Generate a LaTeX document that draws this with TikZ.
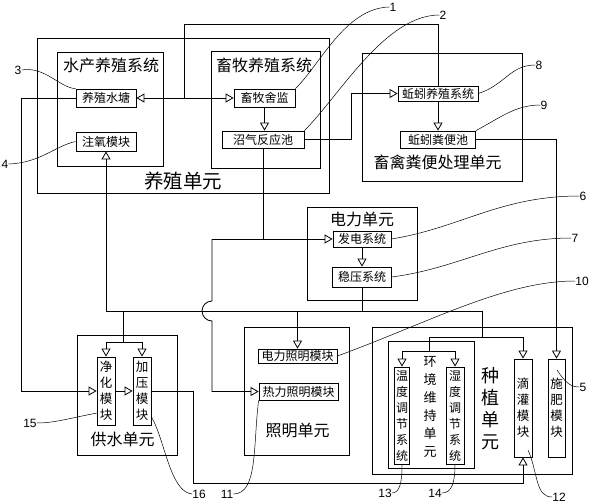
\documentclass[tikz,border=0pt]{standalone}
\usepackage{fontspec}
\setmainfont{Liberation Sans}
\newfontfamily\cjk{Noto Sans CJK SC}
\usetikzlibrary{arrows.meta}

\begin{document}
\begin{tikzpicture}[
    x=1pt, y=-1pt,
    unitbox/.style={draw, line width=0.8pt, inner sep=0pt},
    modbox/.style={draw, line width=0.8pt, inner sep=0pt, font=\cjk\fontsize{12}{14}\selectfont},
    vbox/.style={draw, line width=0.8pt, inner sep=0pt, align=center, font=\cjk\fontsize{12.5}{16}\selectfont},
    unittitle/.style={inner sep=0pt, font=\cjk\fontsize{16}{18}\selectfont},
    flowarrow/.style={line width=0.8pt, -{Triangle[open, length=8pt, width=9pt]}},
    wire/.style={line width=0.8pt},
    leadline/.style={line width=0.5pt},
    numtag/.style={inner sep=0pt, font=\fontsize{12}{14}\selectfont}
]
    \useasboundingbox (0,0) rectangle (591,503);

    % --- Breeding unit ---
    \node[unitbox, minimum width=292pt, minimum height=155pt] (Breed) at (183,115.5) {};
    \node[unittitle, font=\cjk\fontsize{19.5}{22}\selectfont] (BreedT) at (183,181) {养殖单元};
    \node[unitbox, minimum width=106pt, minimum height=114pt] (Aqua) at (110,109) {};
    \node[unittitle] (AquaT) at (111,65) {水产养殖系统};
    \node[unitbox, minimum width=109pt, minimum height=117pt] (Stock) at (265.5,109.5) {};
    \node[unittitle] (StockT) at (264,65) {畜牧养殖系统};
    \node[modbox, minimum width=60pt, minimum height=18pt] (Pond) at (106,98) {养殖水塘};
    \node[modbox, minimum width=60pt, minimum height=19pt] (Oxy) at (106,141.5) {注氧模块};
    \node[modbox, minimum width=61pt, minimum height=18pt] (Barn) at (264.5,98) {畜牧舍监};
    \node[modbox, minimum width=82pt, minimum height=17pt] (Biogas) at (263,139.5) {沼气反应池};

    % --- Manure unit ---
    \node[unitbox, minimum width=160pt, minimum height=128pt] (Manure) at (442,117) {};
    \node[unittitle] (ManureT) at (437.5,162) {畜禽粪便处理单元};
    \node[modbox, minimum width=80pt, minimum height=15pt] (Worm) at (438,93.5) {蚯蚓养殖系统};
    \node[modbox, minimum width=75pt, minimum height=17pt] (WormPit) at (438,139.5) {蚯蚓粪便池};

    % --- Power unit ---
    \node[unitbox, minimum width=110pt, minimum height=93pt] (Power) at (362,253.5) {};
    \node[unittitle] (PowerT) at (362,219) {电力单元};
    \node[modbox, minimum width=58pt, minimum height=16pt] (Gen) at (362,239) {发电系统};
    \node[modbox, minimum width=59pt, minimum height=20pt] (Reg) at (362,277) {稳压系统};

    % --- Water supply unit ---
    \node[unitbox, minimum width=100pt, minimum height=120pt] (Water) at (127,395) {};
    \node[unittitle] (WaterT) at (122.5,439) {供水单元};
    \node[vbox, minimum width=18pt, minimum height=68pt] (Purify) at (106,391) {净\\化\\模\\块};
    \node[vbox, minimum width=18pt, minimum height=68pt] (Press) at (142,391) {加\\压\\模\\块};

    % --- Lighting unit ---
    \node[unitbox, minimum width=105pt, minimum height=128pt] (Light) at (296.5,391) {};
    \node[unittitle] (LightT) at (297.5,431) {照明单元};
    \node[modbox, minimum width=79pt, minimum height=14pt] (ELight) at (297.5,356) {电力照明模块};
    \node[modbox, minimum width=79pt, minimum height=17pt] (HLight) at (298.5,391.5) {热力照明模块};

    % --- Planting unit ---
    \node[unitbox, minimum width=200pt, minimum height=147pt] (Plant) at (472,400.5) {};
    \node[unittitle, align=center, font=\cjk\fontsize{18}{22}\selectfont] (PlantT) at (490,408.5) {种\\植\\单\\元};
    \node[unitbox, minimum width=86pt, minimum height=127pt] (Env) at (431,404.5) {};
    \node[unittitle, align=center, font=\cjk\fontsize{13}{18}\selectfont] (EnvT) at (430,406.5) {环\\境\\维\\持\\单\\元};
    \node[vbox, font=\cjk\fontsize{12}{16}\selectfont, minimum width=15pt, minimum height=97pt] (Temp) at (402,415.5) {温\\度\\调\\节\\系\\统};
    \node[vbox, font=\cjk\fontsize{12}{16}\selectfont, minimum width=18pt, minimum height=97pt] (Humid) at (455,415.5) {湿\\度\\调\\节\\系\\统};
    \node[vbox, minimum width=18pt, minimum height=98pt] (Drip) at (523,408) {滴\\灌\\模\\块};
    \node[vbox, minimum width=17pt, minimum height=98pt] (Fert) at (556.5,408) {施\\肥\\模\\块};

    % --- junctions ---
    \coordinate (PondJ) at (184,98);
    \coordinate (TopJ) at (184,24);
    \coordinate (GasJ) at (263,239);
    \coordinate (GasL) at (212,239);
    \coordinate (BusL) at (106,311);
    \coordinate (BusR) at (482,311);
    \coordinate (WaterJ) at (123,342);
    \coordinate (PlantJ) at (482,337);
    \coordinate (EnvJ) at (429,351);
    \coordinate (Loop) at (193,483);

    % --- flows ---
    \draw[wire, {Triangle[open, length=8pt, width=9pt]}-{Triangle[open, length=8pt, width=9pt]}] (Pond) -- (Barn);
    \draw[wire] (PondJ) -- (TopJ) -| (Worm);
    \draw[flowarrow] (Barn) -- (Barn |- Biogas.north);
    \draw[flowarrow] (Biogas.east) -- ++(47,0) |- (Worm.west);
    \draw[flowarrow] (Worm) -- (WormPit);
    \draw[flowarrow] (WormPit.east) -| (Fert.north);
    \draw[wire] (Biogas.south) -- (GasJ);
    \draw[flowarrow] (GasL) -- (Gen.west);
    \draw[flowarrow] (GasL) -- (212,301) arc[start angle=90, end angle=270, radius=10pt] |- (HLight.west);
    \draw[flowarrow] (Gen) -- (Reg);
    \draw[wire] (Reg) -- (Reg |- BusR);
    \draw[wire] (BusL) -- (BusR);
    \draw[flowarrow] (BusL) -- (Oxy);
    \draw[flowarrow] (ELight.north |- BusL) -- (ELight);
    \draw[wire] (WaterJ |- BusL) -- (WaterJ);
    \draw[flowarrow] (WaterJ) -| (Purify);
    \draw[flowarrow] (WaterJ) -| (Press);
    \draw[wire] (BusR) -- (PlantJ);
    \draw[flowarrow] (PlantJ) -| (Drip);
    \draw[wire] (PlantJ) -- (PlantJ -| EnvJ) -- (EnvJ);
    \draw[flowarrow] (EnvJ) -| (Temp);
    \draw[flowarrow] (EnvJ) -| (Humid);
    \draw[flowarrow] (Pond.west) -- ++(-54,0) |- (Purify.west);
    \draw[flowarrow] (Purify) -- (Press);
    \draw[flowarrow] (Press.east) -| (Loop) -| (Drip.south);

    % --- reference numbers ---
    \coordinate (FertIn) at (557,370);
    \coordinate (DripIn) at (528,450);
    \node[numtag] (N1) at (393,7) {1};
    \draw[leadline] (Barn.north east) .. controls (320,65) and (345,8) .. (N1.west);
    \node[numtag] (N2) at (443,15) {2};
    \draw[leadline] (Biogas.north east) .. controls (340,95) and (385,15) .. (N2.west);
    \node[numtag] (N8) at (539,65) {8};
    \draw[leadline] (Worm.east) .. controls (505,85) and (510,65) .. (N8.west);
    \node[numtag] (N9) at (544,105) {9};
    \draw[leadline] (WormPit.north east) .. controls (500,118) and (515,105) .. (N9.west);
    \node[numtag] (N6) at (583,196) {6};
    \draw[leadline] (Gen.east) .. controls (460,228) and (500,196) .. (N6.west);
    \node[numtag] (N7) at (575,238) {7};
    \draw[leadline] (Reg.east) .. controls (460,268) and (500,238) .. (N7.west);
    \node[numtag] (N10) at (582,281) {10};
    \draw[leadline] (ELight.east) .. controls (430,322) and (505,281) .. (N10.west);
    \node[numtag] (N5) at (583,387) {5};
    \draw[leadline] (FertIn) .. controls (565,382) and (570,387) .. (N5.west);
    \node[numtag] (N12) at (559,497) {12};
    \draw[leadline] (DripIn) .. controls (538,472) and (535,497) .. (N12.west);
    \node[numtag] (N13) at (385,493) {13};
    \draw[leadline] (Temp.south) .. controls (402,482) and (400,493) .. (N13.east);
    \node[numtag] (N14) at (435,493) {14};
    \draw[leadline] (Humid.south) .. controls (455,482) and (452,493) .. (N14.east);
    \node[numtag] (N11) at (227,494) {11};
    \draw[leadline] (HLight.south west) .. controls (253,445) and (258,494) .. (N11.east);
    \node[numtag] (N16) at (199,494) {16};
    \draw[leadline] (Press.-70) .. controls (165,440) and (170,492) .. (N16.west);
    \node[numtag] (N15) at (30,423) {15};
    \draw[leadline] (Purify.-113) .. controls (70,418) and (55,423) .. (N15.east);
    \node[numtag] (N3) at (18,70) {3};
    \draw[leadline] (N3.east) .. controls (45,66) and (60,88) .. (Pond.north west);
    \node[numtag] (N4) at (5,164) {4};
    \draw[leadline] (N4.east) .. controls (40,163) and (55,146) .. (Oxy.west);
\end{tikzpicture}
\end{document}
